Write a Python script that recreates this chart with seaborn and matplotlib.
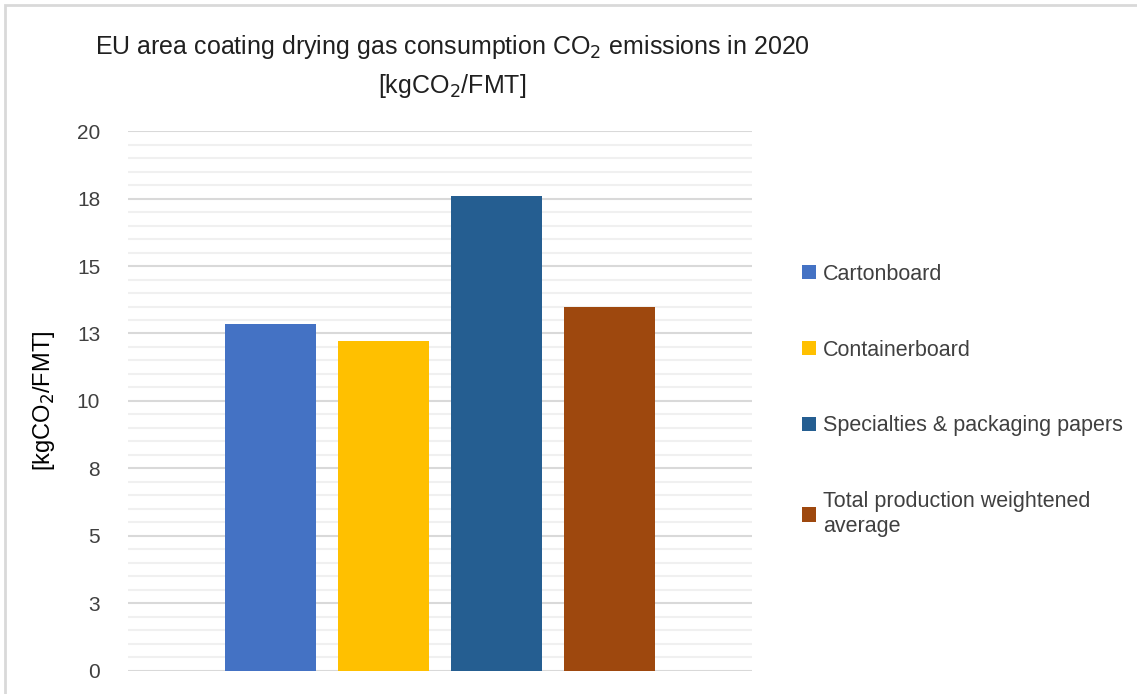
import textwrap

import matplotlib.pyplot as plt
import pandas as pd
import seaborn as sns
from matplotlib.patches import Patch, Rectangle
from matplotlib.ticker import FixedLocator, MultipleLocator

# Data
categories = [
    "Cartonboard",
    "Containerboard",
    "Specialties & packaging papers",
    "Total production weightened average",
]
emissions = [12.84, 12.21, 17.59, 13.47]
colors = ["#4472C4", "#FFC000", "#255E91", "#9E480E"]
ytick_values = [0, 2.5, 5, 7.5, 10, 12.5, 15, 17.5, 20]
ytick_labels = ["0", "3", "5", "8", "10", "13", "15", "18", "20"]

sns.set_style("white")
plt.rcParams["font.family"] = ["Liberation Sans", "DejaVu Sans"]

df = pd.DataFrame({"category": categories, "value": emissions})

fig = plt.figure(figsize=(11.37, 6.94), dpi=100)
ax = fig.add_axes([0.1126, 0.0336, 0.5488, 0.7774])

sns.barplot(data=df, x="category", y="value", hue="category",
            palette=colors, saturation=1, width=0.8, legend=False, ax=ax,
            edgecolor="none", zorder=3)

ax.set_ylim(0, 20)
ax.set_xlim(-1.26, 4.26)
ax.yaxis.set_major_locator(FixedLocator(ytick_values))
ax.set_yticklabels(ytick_labels, fontsize=15, color="#404040")
ax.yaxis.set_minor_locator(MultipleLocator(0.5))
ax.grid(axis="y", which="major", color="#d9d9d9", linewidth=1.5, zorder=0)
ax.grid(axis="y", which="minor", color="#f0f0f0", linewidth=1.5, zorder=0)
ax.tick_params(axis="y", which="both", length=0, pad=20)
ax.tick_params(axis="x", which="both", length=0, labelbottom=False)
ax.set_xlabel("")
ax.set_ylabel("[kgCO$_2$/FMT]", fontsize=17, color="#000000", labelpad=14)
for s in ax.spines.values():
    s.set_visible(False)

# Title (two lines, as in the reference)
fig.text(0.398, 0.932, "EU area coating drying gas consumption CO$_2$ emissions in 2020",
         ha="center", va="center", fontsize=18, color="#202020")
fig.text(0.398, 0.876, "[kgCO$_2$/FMT]", ha="center", va="center",
         fontsize=18, color="#202020")

# Legend on the right
handles = [Patch(facecolor=c, edgecolor="none") for c in colors]
labels = [textwrap.fill(c, 30) for c in categories]
fig.legend(handles, labels, loc="upper left", bbox_to_anchor=(0.688, 0.648),
           frameon=False, fontsize=15.5, handlelength=0.65, handleheight=0.65,
           handletextpad=0.35, labelspacing=2.55, labelcolor="#404040")

# Light chart frame
fig.patches.append(Rectangle((5 / 1137, -0.01), 1.02, 1 - 5 / 694 + 0.01,
                             transform=fig.transFigure, fill=False,
                             edgecolor="#d9d9d9", linewidth=2))

fig.savefig("out.png", dpi=100)
